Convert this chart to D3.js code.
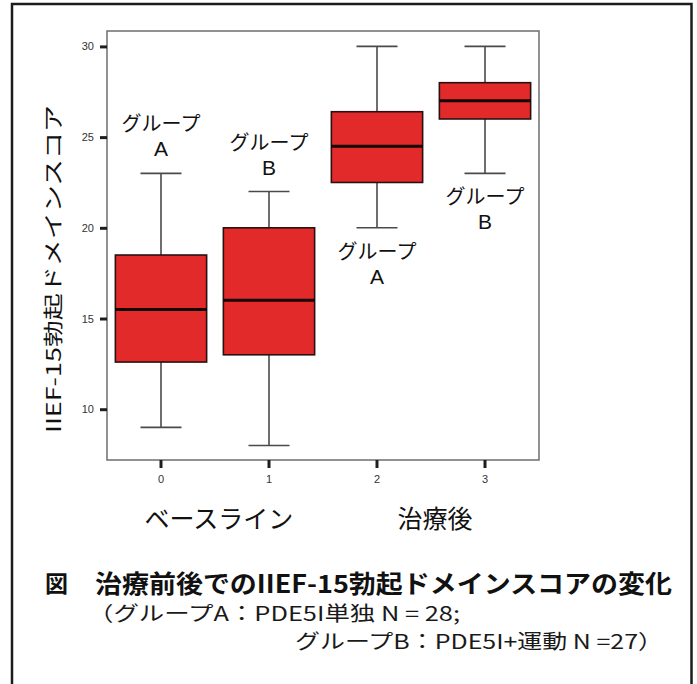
<!DOCTYPE html>
<html>
<head>
<meta charset="utf-8">
<script src="https://cdn.jsdelivr.net/npm/d3@7/dist/d3.min.js"></script>
<style>
  html, body { margin: 0; padding: 0; background: #fff; }
  svg { display: block; }
  .jp { font-family: "Noto Sans CJK JP", "Noto Sans", sans-serif; }
  .lat { font-family: "Liberation Sans", Arial, sans-serif; }
  .tick text { font-family: "Liberation Sans", Arial, sans-serif; }
</style>
</head>
<body>
<script>
// IIEF-15 erectile domain score: box plot summaries per group and period
const categories   = ["0", "1", "2", "3"];
const whiskerLow   = [9, 8, 20, 23];
const quartile1    = [12.6, 13, 22.5, 26];
const medians      = [15.5, 16, 24.5, 27];
const quartile3    = [18.5, 20, 26.4, 28];
const whiskerHigh  = [23, 22, 30, 30];
const groupNames   = ["A", "B", "A", "B"];
const periodNames  = ["ベースライン", "治療後"];
const yTickValues  = [10, 15, 20, 25, 30];

const yAxisTitle = "IIEF-15勃起ドメインスコア";
const groupWord = "グループ";
const figureMark = "図";
const figureTitle = "治療前後でのIIEF-15勃起ドメインスコアの変化";
const noteLine1 = "（グループA：PDE5I単独 N = 28;";
const noteLine2 = "グループB：PDE5I+運動 N =27）";

const W = 697, H = 684;
const frame = { left: 107, right: 539, top: 31, bottom: 460 };

const svg = d3.select("body").append("svg")
  .attr("width", W).attr("height", H);

// outer figure border (open at the bottom)
svg.append("path")
  .attr("d", `M12,${H + 5} V4 H691.5 V${H + 5}`)
  .attr("fill", "none").attr("stroke", "#1c1c1c").attr("stroke-width", 2.5);

const x = d3.scaleBand().domain(categories)
  .range([frame.left, frame.right]).paddingInner(0).paddingOuter(0);
const y = d3.scaleLinear().domain([7.2, 30.85])
  .range([frame.bottom, frame.top]);

const boxes = categories.map((c, i) => ({
  cat: c, lo: whiskerLow[i], q1: quartile1[i], med: medians[i],
  q3: quartile3[i], hi: whiskerHigh[i], group: groupNames[i], idx: i
}));

const boxW = x.step() * 0.845;
const capW = 41;

// plot frame
svg.append("rect")
  .attr("x", frame.left).attr("y", frame.top)
  .attr("width", frame.right - frame.left).attr("height", frame.bottom - frame.top)
  .attr("fill", "none").attr("stroke", "#6e6e6e").attr("stroke-width", 1.5);

// axes
const yAxis = d3.axisLeft(y).tickValues(yTickValues).tickSize(7).tickPadding(6);
const gy = svg.append("g").attr("transform", `translate(${frame.left},0)`).call(yAxis);
const xAxis = d3.axisBottom(x).tickSize(8).tickPadding(7);
const gx = svg.append("g").attr("transform", `translate(0,${frame.bottom})`).call(xAxis);
[gy, gx].forEach(g => {
  g.select(".domain").remove();
  g.selectAll(".tick line").attr("stroke", "#1e1e1e").attr("stroke-width", 3);
  g.selectAll(".tick text").attr("font-size", 11).attr("fill", "#333");
});

const bx = svg.append("g").selectAll("g").data(boxes).join("g")
  .attr("transform", d => `translate(${x(d.cat) + x.bandwidth() / 2},0)`);

// whiskers
bx.append("line").attr("x1", 0).attr("x2", 0)
  .attr("y1", d => y(d.hi)).attr("y2", d => y(d.q3))
  .attr("stroke", "#4a4a4a").attr("stroke-width", 1.6);
bx.append("line").attr("x1", 0).attr("x2", 0)
  .attr("y1", d => y(d.q1)).attr("y2", d => y(d.lo))
  .attr("stroke", "#4a4a4a").attr("stroke-width", 1.6);
bx.append("line").attr("x1", -capW / 2).attr("x2", capW / 2)
  .attr("y1", d => y(d.hi)).attr("y2", d => y(d.hi))
  .attr("stroke", "#4a4a4a").attr("stroke-width", 1.6);
bx.append("line").attr("x1", -capW / 2).attr("x2", capW / 2)
  .attr("y1", d => y(d.lo)).attr("y2", d => y(d.lo))
  .attr("stroke", "#4a4a4a").attr("stroke-width", 1.6);

// boxes
bx.append("rect")
  .attr("x", -boxW / 2).attr("width", boxW)
  .attr("y", d => y(d.q3)).attr("height", d => y(d.q1) - y(d.q3))
  .attr("fill", "#e22a2b").attr("stroke", "#2a1010").attr("stroke-width", 1.6);

// medians
bx.append("line").attr("x1", -boxW / 2).attr("x2", boxW / 2)
  .attr("y1", d => y(d.med)).attr("y2", d => y(d.med))
  .attr("stroke", "#140606").attr("stroke-width", 3);

// group labels: above the baseline boxes, below the post-treatment boxes
bx.each(function (d) {
  const g = d3.select(this);
  const above = d.idx < 2;
  const base = above ? y(d.hi) - 42 : y(d.lo) + 31;
  g.append("text").attr("class", "jp")
    .attr("x", 0).attr("y", base)
    .attr("text-anchor", "middle").attr("font-size", 20)
    .attr("fill", "#111").text(groupWord);
  g.append("text").attr("class", "lat")
    .attr("x", 0).attr("y", base + 25)
    .attr("text-anchor", "middle").attr("font-size", 21)
    .attr("fill", "#111").text(d.group);
});

// period labels under the axis
periodNames.forEach((p, i) => {
  const c0 = x(categories[2 * i]) + x.bandwidth() / 2;
  const c1 = x(categories[2 * i + 1]) + x.bandwidth() / 2;
  svg.append("text").attr("class", "jp")
    .attr("x", (c0 + c1) / 2 + 4).attr("y", 517)
    .attr("text-anchor", "middle").attr("dominant-baseline", "central")
    .attr("font-size", 25).attr("fill", "#111").text(p);
});

// y-axis title
svg.append("text").attr("class", "jp")
  .attr("transform", "translate(52,269) rotate(-90)")
  .attr("text-anchor", "middle").attr("dominant-baseline", "central")
  .attr("font-size", 20).attr("fill", "#111")
  .attr("textLength", 328).attr("lengthAdjust", "spacingAndGlyphs")
  .text(yAxisTitle);

// figure caption
svg.append("text").attr("class", "jp")
  .attr("x", 45).attr("y", 582).attr("dominant-baseline", "central")
  .attr("font-size", 23).attr("font-weight", 700).attr("fill", "#111")
  .text(figureMark);
svg.append("text").attr("class", "jp")
  .attr("x", 95).attr("y", 582).attr("dominant-baseline", "central")
  .attr("font-size", 25).attr("font-weight", 700).attr("fill", "#111")
  .attr("textLength", 577).attr("lengthAdjust", "spacingAndGlyphs")
  .text(figureTitle);
svg.append("text").attr("class", "jp")
  .attr("x", 88).attr("y", 612).attr("dominant-baseline", "central")
  .attr("font-size", 20).attr("fill", "#1a1a1a")
  .attr("textLength", 372).attr("lengthAdjust", "spacingAndGlyphs")
  .text(noteLine1);
svg.append("text").attr("class", "jp")
  .attr("x", 295).attr("y", 640).attr("dominant-baseline", "central")
  .attr("font-size", 20).attr("fill", "#1a1a1a")
  .attr("textLength", 368).attr("lengthAdjust", "spacingAndGlyphs")
  .text(noteLine2);
</script>
</body>
</html>
